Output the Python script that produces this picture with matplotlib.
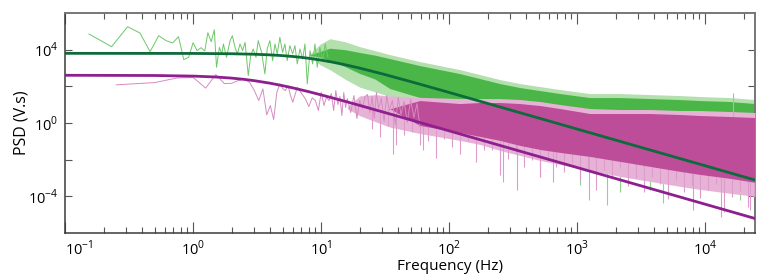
import numpy as np
import matplotlib
matplotlib.use("Agg")
import matplotlib.pyplot as plt

plt.rcParams['font.family'] = ['Open Sans', 'DejaVu Sans']
plt.rcParams['mathtext.fontset'] = 'custom'
plt.rcParams['mathtext.rm'] = 'Open Sans'

# ---- data (frequency in Hz, PSD in V.s) ----

# smooth fitted curves
fit_green_f = [0.1, 1, 2, 3, 4, 5, 6, 7, 8, 10, 12, 15, 20, 30, 50, 100, 1000, 1e4, 2.45e4]
fit_green_p = [6300, 6216, 5977, 5617, 5180, 4708, 4237, 3790, 3377, 2679, 2138, 1559,
               983, 478, 181, 46.3, 0.466, 0.00466, 0.000776]

fit_purple_f = [0.1, 0.5, 1, 1.5, 2, 2.5, 3, 4, 5, 6, 8, 10, 15, 20, 50, 100, 1000, 1e4, 2.45e4]
fit_purple_p = [400, 389, 361, 322, 280, 239, 203, 147, 108.5, 82.1, 50.8, 34.0, 15.9,
                9.09, 1.48, 0.372, 0.00372, 3.72e-5, 6.2e-6]

# low frequency part of the green spectrum
green_f = [0.153, 0.230, 0.307, 0.383, 0.460, 0.537, 0.613, 0.690, 0.767, 0.843,
           0.920, 0.997, 1.07, 1.15, 1.23, 1.30, 1.38, 1.46, 1.52, 1.60,
           1.67, 1.72, 1.82, 1.94, 2.02, 2.12, 2.21, 2.32, 2.43, 2.54,
           2.69, 2.81, 2.94, 3.09, 3.22, 3.42, 3.63, 3.78, 3.97, 4.17,
           4.35, 4.53, 4.75, 4.99, 5.20, 5.42, 5.69, 5.98, 6.23, 6.50,
           6.82, 7.16, 7.46, 7.78, 8.17, 8.57, 8.93, 9.31, 9.77, 10.26,
           10.74, 11.28]
green_p = [71500, 14600, 178600, 81000, 7800, 57800, 31000, 23200, 51000, 2860,
           3810, 24000, 8830, 12800, 8500, 84000, 27200, 122000, 1090, 13300,
           5830, 20400, 3810, 31000, 57800, 13300, 5830, 20400, 8830, 24900,
           385, 4710, 10900, 3810, 31000, 7130, 476, 10900, 31000, 2520,
           20400, 5830, 46700, 7130, 20400, 2520, 16500, 5830, 16500, 1670,
           10900, 3120, 20400, 136, 8830, 1670, 20400, 1090, 13300, 2520,
           20400, 3810]

# low frequency part of the magenta spectrum
magenta_f = [0.25, 0.5, 0.75, 1.0, 1.25, 1.5, 1.75, 2.0, 2.25, 2.5, 2.75, 3.0,
             3.25, 3.5, 3.75, 4.0, 4.25, 4.5, 4.75, 5.0, 5.25, 5.5, 5.75, 6.0,
             6.5, 7.0, 7.5, 8.0, 8.5, 9.0, 9.5, 10, 10.5, 11, 11.5,
             12, 12.5, 13, 13.5, 14, 14.5, 15, 15.5, 16, 17, 18, 19, 20, 21, 22,
             23, 24, 25, 26, 27, 28, 29.5, 31, 32.5, 34, 36, 38, 40, 42, 44.5,
             47, 50, 53, 56, 59]
magenta_p = [120, 160, 288, 300, 80, 435, 141, 147, 206, 248, 166, 58.8,
             16.8, 72.6, 2.79, 8.95, 1.55, 47.4, 136, 75.5, 58.8, 110, 31.4, 13.6,
             88.7, 41.9, 21.5, 7.9, 23.5, 16.8, 4.79, 47.4, 8.95, 25.4, 16.8,
             40.3, 4.79, 58.8, 10.2, 27.7, 2.56, 45.7, 6.98, 21.5, 3.73, 31.4,
             1.76, 16.8, 6.15, 27.7,
             35.6, 3.73, 27.7, 1.76, 45.7, 6.15, 21.5, 1.21, 31.4, 4.79, 16.8,
             0.828, 24.4, 2.90, 14.8, 1.06, 19.0, 1.99, 11.5, 0.645]

# dense part of the green spectrum: pale outer and solid inner envelopes
gband_f = [8, 9.8, 11.7, 15.3, 20, 26.3, 34.4, 59, 121, 174, 249, 357, 511, 733,
           1256, 2155, 3700, 6340, 9080, 15600, 24500]
gband_out_hi = [5000, 20000, 39600, 27200, 14600, 8830, 5350, 2230, 815, 436, 233,
                141, 97, 66.5, 40.3, 40.3, 35.5, 31.4, 27.7, 24.4, 19.0]
gband_in_hi = [5000, 8000, 12000, 10000, 7000, 5000, 3240, 1350, 494, 264, 141,
               85.5, 58.8, 40.3, 24.4, 24.4, 21.5, 19.0, 16.8, 14.8, 11.5]
gband_in_lo = [5000, 4000, 2500, 1200, 500, 250, 75.5, 24.4, 6.98, 3.73, 1.76,
               0.731, 0.304, 0.143, 0.0597, 0.0248, 0.0117, 0.00625, 0.0043,
               0.00202, 0.000955]
gband_out_lo = [5000, 1500, 800, 250, 90, 50, 28, 9, 2.5, 1.2, 0.5, 0.2, 0.08,
                0.035, 0.012, 0.005, 0.002, 0.001, 0.0007, 0.0003, 0.00015]

# dense part of the magenta spectrum
mband_f = [16, 20, 26.3, 34.4, 59, 121, 174, 249, 357, 511, 733, 1256, 2155, 3700,
           6340, 9080, 15600, 24500]
mband_out_hi = [8, 30, 35, 30, 25, 21.5, 21.5, 21.5, 19.0, 14.8, 10.2, 6.15,
                5.43, 5.43, 4.79, 4.79, 4.23, 3.73]
mband_in_hi = [6, 6, 6, 6, 16.8, 11.5, 13.1, 13.1, 11.5, 8.96, 6.15, 3.29,
               3.29, 3.29, 2.90, 2.56, 2.26, 1.99]
mband_in_lo = [6, 6, 6, 6, 0.731, 0.304, 0.184, 0.112, 0.0597, 0.0361, 0.0248,
               0.0150, 0.00804, 0.0043, 0.0023, 0.00157, 0.000955, 0.000578]
mband_out_lo = [6, 2.5, 1.2, 0.6, 0.268, 0.112, 0.0676, 0.0318, 0.017, 0.0091,
                0.00552, 0.0026, 0.00122, 0.000655, 0.00035, 0.00024, 0.000146, 0.0001]

# downward spikes below the magenta band (log10 of frequency, log10 of PSD)
mspike_logf = [1.396, 1.459, 1.521, 1.584, 1.646, 1.709, 1.771, 1.834, 1.896, 1.959,
               2.021, 2.084, 2.146, 2.209, 2.271, 2.334, 2.396, 2.459, 2.521, 2.584,
               2.646, 2.709, 2.771, 2.834, 2.896, 2.959, 3.021, 3.084, 3.146, 3.209,
               3.271, 3.334, 3.396, 3.459, 3.521, 3.584, 3.646, 3.709, 3.771, 3.834,
               3.896, 3.959, 4.021, 4.084, 4.146, 4.209, 4.271, 4.334, 4.381,
               1.558, 1.795, 2.42, 2.529, 2.81, 3.09, 3.903, 4.122, 4.349]
mspike_logp = [-0.316, -0.773, -0.174, -1.224, -0.642, -0.501, -1.224, -0.974, -1.921, -0.854,
               -1.312, -1.714, -0.985, -2.106, -1.486, -1.464, -2.857, -1.986, -1.605, -2.411,
               -2.008, -2.966, -2.052, -2.389, -2.667, -2.182, -3.113, -2.514, -3.673, -2.547,
               -3.004, -2.476, -3.418, -3.004, -3.782, -2.928, -3.331, -4.163, -3.091, -3.761,
               -3.391, -4.109, -3.679, -3.352, -4.882, -4.016, -3.706, -4.593, -3.989,
               -1.676, -1.497, -3.238, -3.673, -3.238, -4.218, -4.762, -5.143, -4.762]

# green spikes showing below the magenta band
gspike_logf = [1.771, 2.709, 3.021, 3.232, 3.334, 3.568, 3.669, 3.958, 4.271]
gspike_logp = [-0.229, -2.95, -3.401, -4.49, -3.782, -3.673, -4.381, -3.946, -4.218]

# one upward pink spike above the bands
upspike_f = [16550]
upspike_p = [45.7]

xticks = [0.1, 1, 10, 100, 1000, 10000]
xticklabels = ['$10^{-1}$', '$10^{0}$', '$10^{1}$', '$10^{2}$', '$10^{3}$', '$10^{4}$']
yticks = [1e-4, 1e-2, 1, 1e2, 1e4]
yticklabels = ['$10^{-4}$', '', '$10^{0}$', '', '$10^{4}$']

# colours
c_green = '#4ab648'
c_green_pale = '#b4e0ae'
c_green_trace = '#6cc868'
c_mag = '#be4d99'
c_mag_pale = '#e6b3d6'
c_mag_trace = '#d58bc2'
c_mag_spike = '#dc9bcb'
c_fit_green = '#0d6a3b'
c_fit_purple = '#8e1f8e'

fig = plt.figure(figsize=(7.62, 2.78), dpi=100)
ax = fig.add_axes([0.0857, 0.1619, 0.905, 0.7914])
ax.set_xscale('log')
ax.set_yscale('log')

# green spectrum
ax.fill_between(gband_f, gband_out_lo, gband_out_hi, color=c_green_pale, lw=0, zorder=1)
ax.fill_between(gband_f, gband_in_lo, gband_in_hi, color=c_green, lw=0, zorder=2)
ax.plot(green_f, green_p, color=c_green_trace, lw=0.7, zorder=2)
gs_f = 10 ** np.array(gspike_logf)
gs_top = 10 ** np.interp(gspike_logf, np.log10(gband_f), np.log10(gband_in_lo))
ax.vlines(gs_f, 10 ** np.array(gspike_logp), gs_top, color='#8fd48a', lw=0.8, zorder=1.5)

# magenta spectrum
ax.fill_between(mband_f, mband_out_lo, mband_out_hi, color=c_mag_pale, lw=0, zorder=3)
ax.fill_between(mband_f, mband_in_lo, mband_in_hi, color=c_mag, lw=0, zorder=4)
ax.plot(magenta_f, magenta_p, color=c_mag_trace, lw=0.7, zorder=4)
ms_f = 10 ** np.array(mspike_logf)
ms_top = 10 ** np.interp(mspike_logf, np.log10(mband_f), np.log10(mband_in_lo))
ax.vlines(ms_f, 10 ** np.array(mspike_logp), ms_top, color=c_mag_spike, lw=0.8, zorder=3.5)
up_base = 10 ** np.interp(np.log10(upspike_f), np.log10(mband_f), np.log10(mband_in_hi))
ax.vlines(upspike_f, up_base, upspike_p, color=c_mag_spike, lw=0.8, zorder=3.5)

# fitted curves
ax.plot(fit_green_f, fit_green_p, color=c_fit_green, lw=2.0, zorder=6)
ax.plot(fit_purple_f, fit_purple_p, color=c_fit_purple, lw=2.0, zorder=6)

ax.set_xlim(0.1, 2.45e4)
ax.set_ylim(1e-6, 1e6)

# ticks
ax.set_xticks(xticks)
ax.set_xticklabels(xticklabels, fontsize=10.5)
ax.xaxis.get_ticklabels()[0].set_horizontalalignment('left')
ax.set_yticks(yticks)
ax.set_yticklabels(yticklabels, fontsize=10.5)
ax.minorticks_on()
ax.yaxis.set_minor_locator(plt.NullLocator())
ax.tick_params(axis='x', which='major', direction='in', top=True, length=8,
               width=0.8, color='#555555', pad=4.5)
ax.tick_params(axis='x', which='minor', direction='in', top=True, length=4,
               width=0.8, color='#555555')
ax.tick_params(axis='y', which='major', direction='in', right=True, length=5,
               width=0.8, color='#555555', pad=5)

for side in ['left', 'bottom']:
    ax.spines[side].set_color('#3a3a3a')
    ax.spines[side].set_linewidth(1.1)
for side in ['top', 'right']:
    ax.spines[side].set_color('#777777')
    ax.spines[side].set_linewidth(1.4)

ax.set_xlabel('Frequency (Hz)', fontsize=11)
ax.xaxis.set_label_coords(0.558, -0.118)
ax.set_ylabel('PSD (V.s)', fontsize=11.5)
ax.yaxis.set_label_coords(-0.052, 0.5)

fig.savefig('out.png', dpi=100)
